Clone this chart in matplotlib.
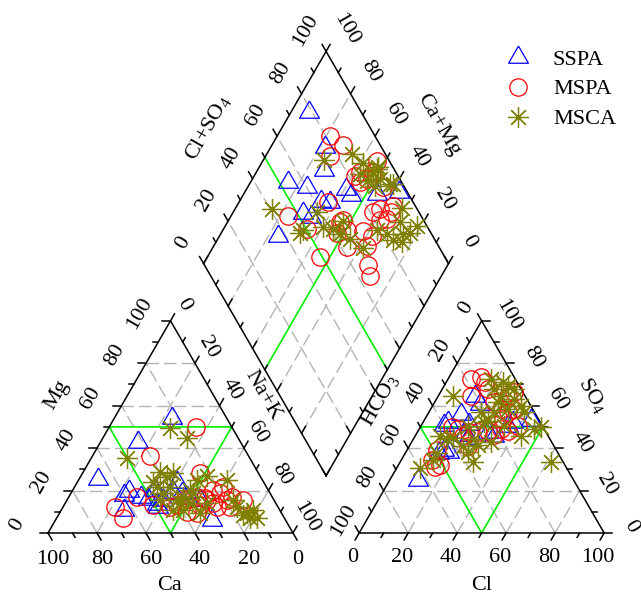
import numpy as np
import matplotlib
matplotlib.use("Agg")
import matplotlib.pyplot as plt

# ---------------- data (percent) ----------------
series = ["SSPA", "MSPA", "MSCA"]

# cation triangle: Ca %, Mg %  (Na+K = 100 - Ca - Mg)
cat_ca_sspa = [22.3, 41.9, 66.8, 60.1, 57.0, 63.6, 53.5, 51.2, 46.2, 48.7, 45.3, 35.3, 39.3, 35.9, 34.8, 30.2, 30.0, 49.0]
cat_mg_sspa = [54.2, 42.9, 25.5, 17.9, 19.8, 10.8, 17.0, 16.0, 20.3, 13.7, 15.6, 24.0, 19.3, 18.9, 17.0, 15.6, 6.1, 12.3]
cat_ca_mspa = [14.6, 40.2, 23.8, 66.5, 65.8, 55.2, 50.5, 44.0, 38.3, 30.7, 27.3, 22.5, 20.3, 19.1, 24.9, 19.6, 12.6,
               31.4, 17.7, 40.7, 36.3, 25.6, 16.4, 27.7, 34.5]
cat_mg_mspa = [50.0, 36.3, 28.3, 12.3, 7.1, 17.0, 13.2, 12.3, 9.9, 17.0, 15.6, 20.3, 18.9, 15.6, 12.3, 12.3, 15.6,
               13.2, 21.7, 13.2, 15.6, 14.2, 17.0, 16.5, 9.4]
cat_ca_msca = [25.4, 20.9, 50.1, 39.9, 38.2, 34.8, 45.1, 44.6, 43.6, 39.3, 39.5, 43.6, 36.4, 31.9, 26.7, 21.7, 14.4,
               33.3, 28.0, 16.7, 16.7, 14.1, 10.9, 14.0, 11.1, 39.0, 46.5, 34.1, 39.5, 31.4, 16.1]
cat_mg_msca = [49.5, 44.8, 35.4, 28.8, 26.4, 28.3, 24.1, 21.7, 18.9, 21.7, 15.6, 10.8, 17.0, 20.3, 25.0, 26.9, 25.0,
               9.4, 14.2, 15.6, 12.3, 9.4, 10.8, 7.1, 7.1, 14.2, 15.6, 14.2, 10.8, 18.9, 8.5]

# anion triangle: Cl %, SO4 %  (HCO3 = 100 - Cl - SO4)
an_cl_sspa = [14.9, 18.8, 10.4, 9.1, 13.5, 19.4, 28.8, 32.2, 36.7, 43.6, 14.8, 13.5, 17.3, 11.6, 21.8, 35.6, 19.1]
an_so4_sspa = [64.5, 60.7, 52.1, 50.7, 55.9, 46.4, 47.4, 45.5, 52.1, 53.1, 39.3, 37.9, 38.4, 25.1, 45.0, 50.2, 51.2]
an_cl_mspa = [9.3, 12.8, 15.7, 13.3, 18.6, 24.1, 28.4, 29.9, 28.7, 32.2, 33.6, 31.8, 36.7, 31.7, 28.5, 21.0, 19.5,
              13.2, 23.9, 12.3, 12.6, 15.5, 17.1, 24.7, 39.7, 33.4, 15.8]
an_so4_mspa = [72.5, 73.5, 71.1, 64.5, 67.8, 61.6, 64.5, 66.4, 58.3, 56.9, 58.3, 53.6, 47.9, 46.4, 47.9, 47.4, 45.5,
               49.8, 40.8, 39.3, 34.6, 31.3, 32.2, 47.4, 50.2, 48.8, 48.8]
an_cl_msca = [23.0, 26.1, 21.0, 25.5, 25.8, 31.6, 36.1, 38.7, 31.5, 26.5, 21.1, 6.2, 10.4, 16.0, 19.2, 24.7, 27.5,
              29.5, 26.2, 33.9, 43.2, 46.9, 49.3, 61.5, 13.0, 13.0, 9.6, 25.1, 14.0, 32.3, 21.8, 17.4, 29.2, 24.8]
an_so4_msca = [71.1, 69.2, 67.8, 64.5, 61.6, 63.0, 59.7, 56.9, 58.3, 56.9, 56.9, 64.5, 45.5, 45.0, 50.2, 44.1, 41.7,
               33.6, 52.6, 50.2, 45.5, 48.8, 49.8, 33.6, 37.9, 34.6, 30.8, 38.4, 44.1, 42.7, 40.8, 72.5, 67.8, 52.1]

# diamond: Cl+SO4 %, Ca+Mg %
dm_clso4_sspa = [78.7, 77.0, 71.4, 53.6, 60.4, 62.8, 66.0, 52.4, 54.7, 36.8, 75.6, 76.2, 87.3, 96.5]
dm_camg_sspa = [92.6, 77.8, 72.9, 84.6, 75.9, 66.9, 62.8, 71.2, 67.0, 76.0, 59.3, 55.9, 45.7, 37.0]
dm_clso4_mspa = [81.6, 85.0, 76.9, 82.4, 85.4, 86.6, 94.9, 90.7, 83.0, 65.2, 45.6, 50.3, 65.4, 66.6, 72.7, 75.2,
                 61.8, 49.2, 70.8, 66.9, 64.9, 81.2, 84.8, 85.3, 88.6, 90.8, 82.4, 91.4, 67.3, 62.6]
dm_camg_mspa = [78.3, 71.1, 73.6, 58.7, 57.6, 53.1, 53.3, 52.3, 55.2, 63.6, 76.6, 65.8, 54.0, 49.4, 42.5, 37.6,
                52.8, 54.1, 37.3, 32.6, 29.0, 42.9, 40.7, 35.5, 35.5, 36.1, 38.3, 44.9, 53.4, 45.4]
dm_clso4_msca = [86.3, 73.7, 88.9, 90.7, 86.1, 93.9, 88.2, 96.0, 84.9, 40.7, 48.6, 58.6, 57.5, 66.9, 62.6, 65.5,
                 68.7, 78.8, 89.9, 88.3, 91.6, 95.9, 94.2, 81.8, 46.7, 83.0, 91.9, 94.8, 93.0, 60.9, 86.0]
dm_camg_msca = [65.1, 75.3, 58.7, 52.3, 52.6, 51.4, 48.2, 41.3, 57.1, 84.8, 67.4, 65.9, 59.9, 53.0, 51.2, 45.9,
                38.5, 37.2, 29.5, 25.4, 23.0, 21.6, 32.2, 32.0, 67.9, 28.3, 47.8, 42.6, 51.4, 55.2, 24.0]

tick_values = list(range(0, 101, 10))
label_values = list(range(0, 101, 20))
grid_values = [20, 40, 60, 80]

# ---------------- style ----------------
plt.rcParams['font.family'] = ['Liberation Serif', 'DejaVu Serif']
plt.rcParams['mathtext.fontset'] = 'custom'
plt.rcParams['mathtext.rm'] = 'Liberation Serif'
plt.rcParams['mathtext.it'] = 'Liberation Serif:italic'
FS = 16
PX = 245.0                # pixels per unit side
H = np.sqrt(3) / 2
GAP = 0.27
OX = 1 + GAP              # right triangle origin
BX, BY = 1 + GAP / 2, GAP * H   # diamond bottom vertex
AX_LW = 1.1
GRID_KW = dict(color='#b4b4b4', lw=1.0, dashes=(9, 3.6), zorder=1)
GREEN_KW = dict(color='#00ee00', lw=1.2, zorder=2)
colors = {'SSPA': '#0000ff', 'MSPA': '#ff0000', 'MSCA': '#808000'}
tri_marker = [(0, 1), (-0.866, -0.5), (0.866, -0.5), (0, 1)]
mk = {'SSPA': dict(marker=tri_marker, ms=16.5, mew=0.9),
      'MSPA': dict(marker='o', ms=12.5, mew=0.9),
      'MSCA': dict(marker=(8, 2, 0), ms=15, mew=0.9)}


def px(dx, dy):
    """pixel offset (y down) -> unit offset"""
    return np.array([dx / PX, -dy / PX])


# coordinate transforms
def cat_xy(ca, mg):
    ca = np.asarray(ca, float) / 100; mg = np.asarray(mg, float) / 100
    nak = 1 - ca - mg
    return nak + mg / 2, mg * H


def an_xy(cl, so4):
    cl = np.asarray(cl, float) / 100; so4 = np.asarray(so4, float) / 100
    return OX + cl + so4 / 2, so4 * H


def dm_xy(clso4, camg):
    s = np.asarray(clso4, float) / 100; c = np.asarray(camg, float) / 100
    return BX + 0.5 * (s - c), BY + H * (s + c)


fig = plt.figure(figsize=(6.41, 5.96), dpi=100)
ax = fig.add_axes([0, 0, 1, 1])
ax.set_xlim(-48 / PX, 593 / PX)
ax.set_ylim(-63 / PX, 533 / PX)
ax.axis('off')


def seg(p, q, **kw):
    ax.plot([p[0], q[0]], [p[1], q[1]], **kw)


def P(f, a, b):
    x, y = f(a, b)
    return np.array([float(x), float(y)])


# ---- grids ----
for v in grid_values:
    # cation
    seg(P(cat_xy, 100 - v, v), P(cat_xy, 0, v), **GRID_KW)
    seg(P(cat_xy, v, 0), P(cat_xy, v, 100 - v), **GRID_KW)
    seg(P(cat_xy, 100 - v, 0), P(cat_xy, 0, 100 - v), **GRID_KW)
    # anion
    seg(P(an_xy, 0, v), P(an_xy, 100 - v, v), **GRID_KW)
    seg(P(an_xy, v, 0), P(an_xy, v, 100 - v), **GRID_KW)
    seg(P(an_xy, 100 - v, 0), P(an_xy, 0, 100 - v), **GRID_KW)
    # diamond
    seg(P(dm_xy, v, 0), P(dm_xy, v, 100), **GRID_KW)
    seg(P(dm_xy, 0, v), P(dm_xy, 100, v), **GRID_KW)

# ---- green sub-division lines ----
g = [P(cat_xy, 50, 50), P(cat_xy, 0, 50), P(cat_xy, 50, 0), P(cat_xy, 50, 50)]
ax.plot([p[0] for p in g], [p[1] for p in g], **GREEN_KW)
g = [P(an_xy, 0, 50), P(an_xy, 50, 50), P(an_xy, 50, 0), P(an_xy, 0, 50)]
ax.plot([p[0] for p in g], [p[1] for p in g], **GREEN_KW)
seg(P(dm_xy, 50, 0), P(dm_xy, 50, 100), **GREEN_KW)
seg(P(dm_xy, 0, 50), P(dm_xy, 100, 50), **GREEN_KW)

# ---- outlines ----
AXK = dict(color='black', lw=AX_LW, zorder=5, solid_capstyle='projecting')
c = [P(cat_xy, 100, 0), P(cat_xy, 0, 0), P(cat_xy, 0, 100), P(cat_xy, 100, 0)]
ax.plot([p[0] for p in c], [p[1] for p in c], **AXK)
c = [P(an_xy, 0, 0), P(an_xy, 100, 0), P(an_xy, 0, 100), P(an_xy, 0, 0)]
ax.plot([p[0] for p in c], [p[1] for p in c], **AXK)
c = [P(dm_xy, 0, 0), P(dm_xy, 100, 0), P(dm_xy, 100, 100), P(dm_xy, 0, 100), P(dm_xy, 0, 0)]
ax.plot([p[0] for p in c], [p[1] for p in c], **AXK)

# ---- ticks & labels ----
TMAJ, TMIN = 8 / PX, 5 / PX
d60r = np.array([0.5, H])     # up-right
d60l = np.array([-0.5, H])    # up-left
TXT = dict(fontsize=FS, ha='center', va='center', rotation_mode='anchor', zorder=6)


def axis_ticks(pointfn, direction, lab_off=None, rot=0, labels=True):
    for v in tick_values:
        p = pointfn(v)
        L = TMAJ if v % 20 == 0 else TMIN
        seg(p, p + direction * L, color='black', lw=AX_LW, zorder=5)
        if labels and v in label_values:
            q = p + lab_off
            ax.text(q[0], q[1], str(v), rotation=rot, **TXT)


# cation: Ca bottom (100 left -> 0 right), ticks down-right
axis_ticks(lambda v: P(cat_xy, v, 0), np.array([0.5, -H]), px(5, 26), 0)
# Mg left side, ticks left
axis_ticks(lambda v: P(cat_xy, 100 - v, v), np.array([-1.0, 0]), px(-31, -8), 60)
# Na+K right side (0 at apex), ticks up-right
axis_ticks(lambda v: P(cat_xy, 0, 100 - v), d60r, px(13, -16), -60)
# anion: Cl bottom, ticks down-left
axis_ticks(lambda v: P(an_xy, v, 0), np.array([-0.5, -H]), px(-6, 25), 0)
# HCO3 left side (0 at apex), ticks up-left
axis_ticks(lambda v: P(an_xy, 0, 100 - v), d60l, px(-16, -13), 60)
# SO4 right side, ticks right
axis_ticks(lambda v: P(an_xy, 100 - v, v), np.array([1.0, 0]), px(27, -6), -60)
# diamond upper-left: Cl+SO4 (0 at left vertex)
axis_ticks(lambda v: P(dm_xy, v, 100), d60l, px(-21, -21), 60)
# diamond upper-right: Ca+Mg (0 at right vertex)
axis_ticks(lambda v: P(dm_xy, 100, v), d60r, px(20, -22), -60)
# diamond lower edges (ticks only, pointing inside)
axis_ticks(lambda v: P(dm_xy, 0, v), d60r, labels=False)
axis_ticks(lambda v: P(dm_xy, v, 0), d60l, labels=False)

# ---- axis titles ----
titles = [("Ca", (170, 586), 0), ("Cl", (482, 586), 0),
          ("Mg", (57, 395), 60), ("Na+K", (263, 395), -60),
          ("HCO$_3$", (380, 400), 60), ("SO$_4$", (593, 395), -60),
          ("Cl+SO$_4$", (208, 128), 60), ("Ca+Mg", (438, 125), -60)]
for t, (x, y), r in titles:
    ax.text((x - 48) / PX, (533 - y) / PX, t, rotation=r, **TXT)

# ---- data points ----
cat = {'SSPA': (cat_ca_sspa, cat_mg_sspa), 'MSPA': (cat_ca_mspa, cat_mg_mspa), 'MSCA': (cat_ca_msca, cat_mg_msca)}
an = {'SSPA': (an_cl_sspa, an_so4_sspa), 'MSPA': (an_cl_mspa, an_so4_mspa), 'MSCA': (an_cl_msca, an_so4_msca)}
dm = {'SSPA': (dm_clso4_sspa, dm_camg_sspa), 'MSPA': (dm_clso4_mspa, dm_camg_mspa), 'MSCA': (dm_clso4_msca, dm_camg_msca)}

handles = []
for i, s in enumerate(series):
    kw = dict(ls='none', mfc='none', mec=colors[s], zorder=10 + i, **mk[s])
    x, y = cat_xy(*cat[s]); h, = ax.plot(x, y, label=s, **kw)
    x, y = an_xy(*an[s]); ax.plot(x, y, **kw)
    x, y = dm_xy(*dm[s]); ax.plot(x, y, **kw)
    handles.append(h)

fig.legend(handles=handles, loc='upper left', bbox_to_anchor=(480 / 641, 1 - 29 / 596),
           frameon=False, fontsize=FS, handlelength=1.6, handletextpad=0.78,
           labelspacing=0.42, borderpad=0.4, numpoints=1)

fig.savefig('out.png', dpi=100)
